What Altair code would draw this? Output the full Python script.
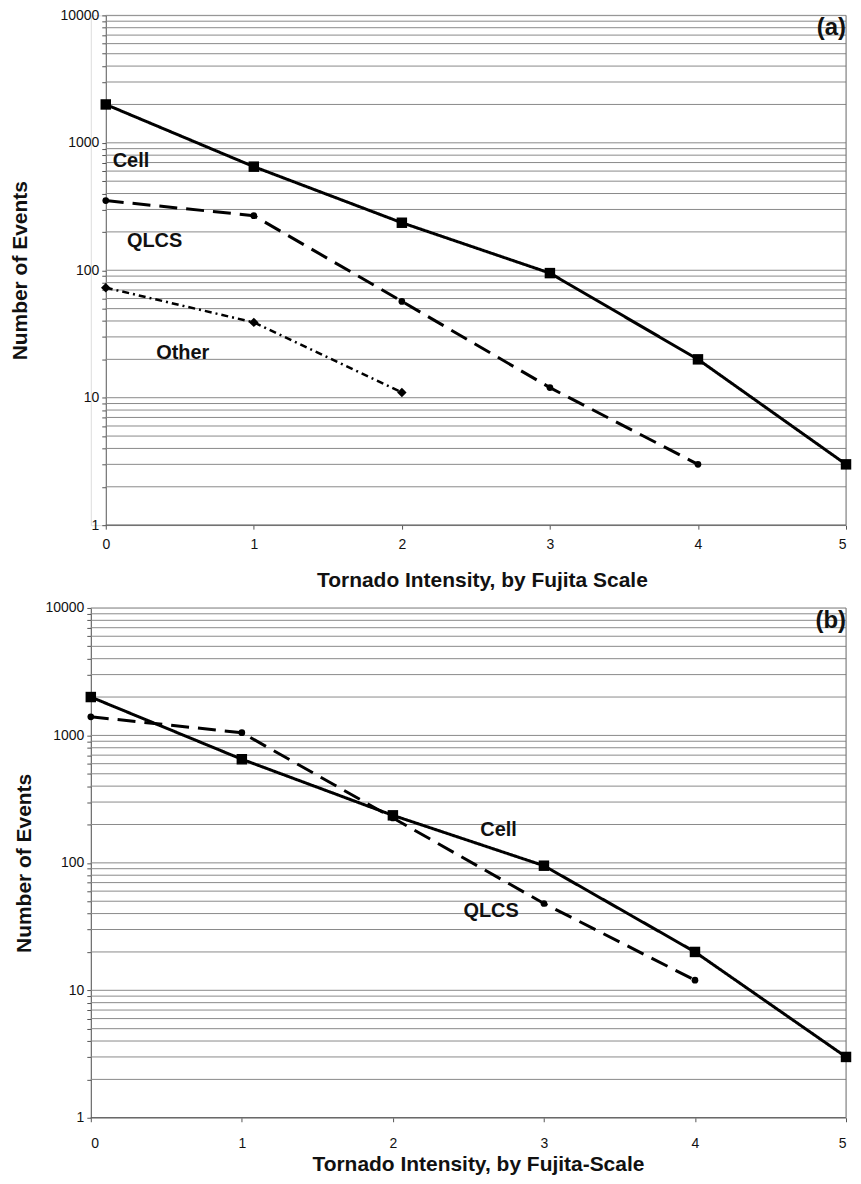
import altair as alt
import pandas as pd

# ---- data ----
fscale = [0, 1, 2, 3, 4, 5]

cell_a = [2000, 650, 236, 95, 20, 3]
qlcs_a = [352, 268, 57, 12, 3]
other_a = [73, 39, 11]

cell_b = [2000, 650, 236, 95, 20, 3]
qlcs_b = [1400, 1050, 225, 48, 12]

y_major = [1, 10, 100, 1000, 10000]
y_grid = [m * 10 ** k for k in range(4) for m in range(1, 10)] + [10000]
x_ticks = [0, 1, 2, 3, 4, 5]

labels_a = ["Cell", "QLCS", "Other"]
labels_a_x = [0.17, 0.33, 0.52]
labels_a_y = [724, 171, 22.5]
labels_b = ["Cell", "QLCS"]
labels_b_x = [2.7, 2.65]
labels_b_y = [180, 42]
tag_a = "(a)"
tag_b = "(b)"
tag_x = 5
tag_y = 7900

FONT = "Liberation Sans"
INK = "#111"


def series_df(vals):
    return pd.DataFrame({"x": fscale[: len(vals)], "y": vals})


def panel(series, labels, lx, ly, tag, x_min, y_offset, width, height, ytitle_pad,
          xtitle, xtitle_x, xlab_pad, xtitle_pad):
    xscale = alt.Scale(domain=[x_min, 5], nice=False, zero=False)
    yscale = alt.Scale(type="log", domain=[1, 10000], nice=False)
    x_enc = alt.X(
        "x:Q", scale=xscale,
        axis=alt.Axis(
            values=x_ticks, format="d", title=xtitle, grid=False, domain=False,
            tickSize=4, labelPadding=xlab_pad, titlePadding=xtitle_pad, titleX=xtitle_x,
            labelFontSize=14, titleFontSize=21, titleFontWeight="bold",
            tickColor="#555", labelColor=INK, titleColor=INK,
            labelFont=FONT, titleFont=FONT,
        ),
    )
    y_enc = alt.Y(
        "y:Q", scale=yscale,
        axis=alt.Axis(
            values=y_grid, format="d", offset=y_offset,
            labelExpr="indexof(%s, datum.value) >= 0 ? datum.label : ''" % str(y_major),
            title="Number of Events", grid=False,
            tickSize=4, labelPadding=3, titlePadding=ytitle_pad,
            labelFontSize=14, titleFontSize=21, titleFontWeight="bold",
            domainColor="#555", tickColor="#555", labelColor=INK, titleColor=INK,
            labelFont=FONT, titleFont=FONT,
        ),
    )
    # horizontal grid lines spanning the data range 0..5
    gdf = pd.DataFrame({"y": y_grid, "x0": [0] * len(y_grid), "x1": [5] * len(y_grid)})
    grid = alt.Chart(gdf).mark_rule(color="#8a8a8a", strokeWidth=1).encode(
        x=alt.X("x0:Q", scale=xscale), x2="x1:Q", y=alt.Y("y:Q", scale=yscale)
    )
    # bottom axis line and right frame
    fdf = pd.DataFrame({"x0": [0], "x1": [5], "y0": [1], "y1": [10000]})
    bottom = alt.Chart(fdf).mark_rule(color="#555", strokeWidth=1).encode(
        x=alt.X("x0:Q", scale=xscale), x2="x1:Q", y=alt.Y("y0:Q", scale=yscale)
    )
    right = alt.Chart(fdf).mark_rule(color="#777", strokeWidth=1).encode(
        x=alt.X("x1:Q", scale=xscale), y=alt.Y("y0:Q", scale=yscale), y2="y1:Q"
    )
    layers = [grid, bottom, right]
    for vals, dash, width_s, shape, size in series:
        df = series_df(vals)
        base = alt.Chart(df)
        line = base.mark_line(color="black", strokeWidth=width_s, strokeDash=dash).encode(x=x_enc, y=y_enc)
        pts = base.mark_point(color="black", filled=True, opacity=1, shape=shape, size=size).encode(x=x_enc, y=y_enc)
        layers += [line, pts]
    ldf = pd.DataFrame({"x": lx, "y": ly, "t": labels})
    txt = alt.Chart(ldf).mark_text(
        font=FONT, fontSize=20, fontWeight="bold", color=INK, align="center", baseline="middle"
    ).encode(x=x_enc, y=y_enc, text="t:N")
    tdf = pd.DataFrame({"x": [tag_x], "y": [tag_y], "t": [tag]})
    tg = alt.Chart(tdf).mark_text(
        font=FONT, fontSize=24, fontWeight="bold", color=INK, align="right", baseline="middle"
    ).encode(x=x_enc, y=y_enc, text="t:N")
    layers += [txt, tg]
    return alt.layer(*layers).properties(width=width, height=height)


SOLID = [1, 0]
DASH = [18, 9]
DASHDOT = [7, 4, 2, 4]

pa = panel(
    [(cell_a, SOLID, 3, "square", 110), (qlcs_a, DASH, 3, "circle", 45), (other_a, DASHDOT, 2.5, "diamond", 90)],
    labels_a, labels_a_x, labels_a_y, tag_a, -0.101, -15, 757, 511, 30,
    "Tornado Intensity, by Fujita Scale", 392, 8, 18,
)
pb = panel(
    [(cell_b, SOLID, 3, "square", 110), (qlcs_b, DASH, 3, "circle", 45)],
    labels_b, labels_b_x, labels_b_y, tag_b, 0, 0, 757, 511, 11,
    "Tornado Intensity, by Fujita-Scale", 388, 15, 3,
)

chart = alt.vconcat(pa, pb, spacing=9).properties(
    padding={"left": 0, "top": -2, "right": 0, "bottom": 0}
).configure_view(stroke=None).configure(background="white")

chart.save("out.html", embed_options={"renderer": "svg", "actions": False})
